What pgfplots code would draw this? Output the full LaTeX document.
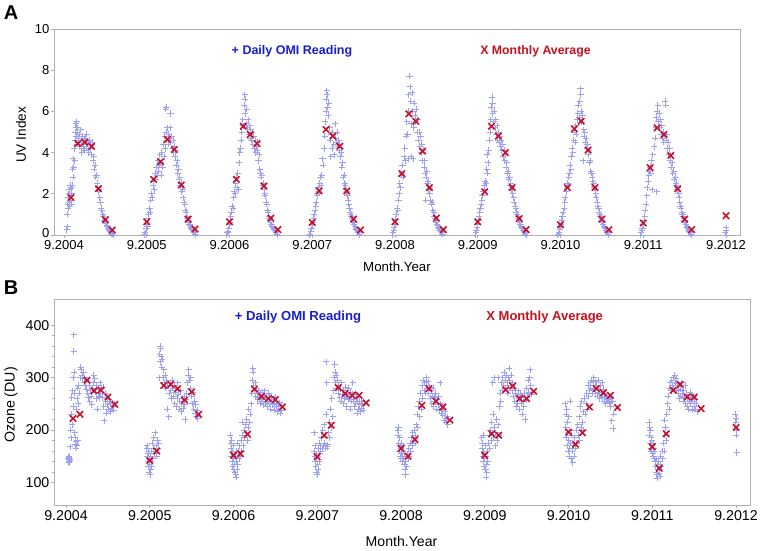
\documentclass[border=0pt]{standalone}
\usepackage{fontspec}
\setmainfont{Liberation Sans}
\usepackage{pgfplots}
\pgfplotsset{compat=1.18}
\usepackage{pgfplotstable}
\definecolor{dailyc}{RGB}{158,160,242}
\definecolor{avgc}{RGB}{200,16,40}
\definecolor{bluetxt}{RGB}{25,30,205}
\definecolor{redtxt}{RGB}{200,16,30}
\definecolor{axisgray}{RGB}{175,175,175}

\pgfplotstableread{
m uv
1 1.82
2 4.44
3 4.50
4 4.30
5 2.25
6 0.75
7 0.24
12 0.64
13 2.70
14 3.56
15 4.64
16 4.15
17 2.43
18 0.77
19 0.29
24 0.64
25 2.70
26 5.28
27 4.88
28 4.44
29 2.38
30 0.82
31 0.26
36 0.61
37 2.14
38 5.12
39 4.80
40 4.31
41 2.14
42 0.77
43 0.24
48 0.64
49 2.98
50 5.88
51 5.52
52 4.07
53 2.30
54 0.82
55 0.26
60 0.64
61 2.10
62 5.28
63 4.80
64 4.00
65 2.30
66 0.80
67 0.26
72 0.50
73 2.30
74 5.15
75 5.52
76 4.12
77 2.30
78 0.77
79 0.26
84 0.58
85 3.27
86 5.20
87 4.88
88 3.86
89 2.25
90 0.77
91 0.26
96 0.93
}\uvavg

\pgfplotstableread{
m oz
1 222
2 230
3 295
4 275
5 276
6 263
7 249
12 142
13 160
14 285
15 287
16 279
17 257
18 273
19 230
24 152
25 155
26 192
27 278
28 264
29 260
30 258
31 244
36 149
37 190
38 209
39 281
40 270
41 266
42 266
43 252
48 165
49 150
50 182
51 247
52 279
53 255
54 244
55 219
60 152
61 193
62 190
63 277
64 284
65 260
66 260
67 274
72 196
73 173
74 195
75 244
76 279
77 271
78 266
79 243
84 168
85 127
86 193
87 276
88 287
89 263
90 263
91 241
96 205
}\ozavg

\pgfplotsset{
  omistyle/.style={
    scale only axis, clip=false,
    tick align=outside, major tick length=3pt, minor tick length=2pt,
    tick style={axisgray, line width=0.6pt},
    axis line style={axisgray, line width=0.8pt},
    xtick pos=lower, ytick pos=left,
    xtick={0,12,...,96},
    xticklabels={9.2004,9.2005,9.2006,9.2007,9.2008,9.2009,9.2010,9.2011,9.2012},
  },
  dailyplot/.style={only marks, mark=+, mark size=3.1pt, color=dailyc, mark options={line width=0.9pt}},
  avgplot/.style={only marks, mark=x, mark size=4.5pt, color=avgc, mark options={line width=1.6pt}},
}

\begin{document}
\begin{tikzpicture}
\useasboundingbox (0pt,0pt) rectangle (761pt,551pt);

% ---------------- Panel A ----------------
\begin{axis}[omistyle,
  at={(54pt,316pt)}, anchor=south west,
  width=686pt, height=206pt,
  xmin=-1.45, xmax=98.03, ymin=0, ymax=10,
  ytick={0,2,4,6,8,10},
  yticklabels={\raisebox{4pt}{0},2,4,6,8,10},
  ticklabel style={font=\fontsize{13}{15}\selectfont},
  xticklabel style={inner ysep=2.5pt},
  yticklabel style={inner xsep=1.5pt},
]
\addplot[dailyplot] table {
0.40 0.25
0.45 1.0
0.50 0.4
0.55 1.5
0.60 1.3
0.65 1.8
0.70 2.0
0.75 1.6
0.80 2.2
0.85 1.4
0.90 2.4
0.95 1.9
1.00 1.7
1.05 2.3
1.10 1.5
1.15 2.0
1.20 2.4
1.25 3.2
1.30 2.8
1.35 3.7
1.40 3.3
1.50 4.2
1.55 3.6
1.60 5.0
1.65 4.6
1.70 5.4
1.75 5.2
1.80 4.8
1.85 5.5
1.90 5.0
1.95 4.4
2.00 5.2
2.10 4.7
2.20 4.9
2.30 4.3
2.40 5.1
2.50 4.5
2.60 4.0
2.70 4.8
2.80 4.2
2.90 4.6
3.00 4.1
3.10 4.7
3.20 4.3
3.30 4.9
3.40 4.4
3.50 4.5
3.60 4.0
3.70 4.6
3.80 4.2
3.90 4.4
4.00 3.9
4.10 4.5
4.20 3.6
4.30 3.8
4.40 3.2
4.50 3.4
4.60 2.8
4.70 2.9
4.80 2.5
4.90 2.3
5.00 2.1
5.10 2.2
5.20 1.8
5.30 1.6
5.40 1.3
5.50 1.2
5.60 1.0
5.70 0.9
5.80 0.7
5.90 0.8
6.00 0.6
6.10 0.55
6.20 0.45
6.30 0.4
6.40 0.3
6.50 0.25
6.60 0.2
6.70 0.15
6.80 0.1
6.90 0.05
7.00 0.05
7.10 0.0
11.60 0.0
11.70 0.05
11.80 0.1
11.90 0.3
12.00 0.5
12.10 0.4
12.20 0.8
12.30 1.0
12.40 1.3
12.50 1.1
12.60 1.7
12.70 2.0
12.80 1.8
12.90 2.4
13.00 2.6
13.10 2.2
13.20 3.0
13.30 2.7
13.40 3.3
13.50 2.9
13.60 3.6
13.70 3.1
13.80 3.4
13.90 3.9
14.00 3.5
14.10 2.9
14.20 4.0
14.30 3.3
14.40 4.4
14.50 3.8
14.60 4.8
14.70 4.2
14.75 6.1
14.80 5.0
14.85 6.2
14.90 4.6
15.00 5.2
15.10 4.4
15.20 4.9
15.30 4.7
15.40 5.2
15.45 5.9
15.50 4.5
15.60 4.8
15.70 4.2
15.80 4.6
15.90 4.0
16.00 4.3
16.10 3.8
16.20 4.1
16.30 3.4
16.40 3.6
16.50 3.0
16.60 3.2
16.70 2.7
16.80 2.8
16.90 2.4
17.00 2.5
17.10 2.1
17.20 2.2
17.30 1.8
17.40 1.6
17.50 1.5
17.60 1.2
17.70 1.1
17.80 0.9
17.90 0.8
18.00 0.7
18.10 0.6
18.20 0.5
18.30 0.45
18.40 0.35
18.50 0.3
18.60 0.25
18.70 0.2
18.80 0.15
18.90 0.1
19.00 0.05
19.10 0.0
23.60 0.0
23.70 0.1
23.80 0.15
23.90 0.3
24.00 0.5
24.10 0.6
24.20 0.9
24.30 1.1
24.40 1.4
24.50 1.3
24.60 1.8
24.70 2.1
24.80 2.0
24.90 2.5
25.00 2.8
25.10 2.3
25.20 3.0
25.30 2.2
25.40 3.5
25.50 4.0
25.60 4.2
25.70 4.6
25.80 5.0
25.90 5.6
26.00 5.3
26.10 6.3
26.20 6.8
26.25 6.6
26.30 5.9
26.40 5.4
26.50 6.1
26.60 5.2
26.70 5.6
26.80 4.9
26.90 5.3
27.00 4.7
27.10 5.1
27.20 4.6
27.30 5.0
27.40 4.4
27.50 4.8
27.60 4.2
27.70 4.6
27.80 4.0
27.90 4.3
28.00 4.1
28.10 4.5
28.20 3.6
28.30 3.9
28.40 3.2
28.50 3.0
28.60 2.8
28.70 2.9
28.80 2.4
28.90 2.5
29.00 2.2
29.10 2.0
29.20 1.9
29.30 1.6
29.40 1.5
29.50 1.2
29.60 1.1
29.70 0.9
29.80 0.8
29.90 0.7
30.00 0.6
30.10 0.5
30.20 0.4
30.30 0.35
30.40 0.3
30.50 0.25
30.60 0.2
30.70 0.15
30.80 0.1
30.90 0.05
31.00 0.0
35.60 0.0
35.70 0.05
35.80 0.15
35.90 0.3
36.00 0.5
36.10 0.6
36.20 0.8
36.30 1.0
36.40 1.2
36.50 1.4
36.60 1.6
36.70 1.9
36.80 2.0
36.90 2.3
37.00 2.1
37.10 2.5
37.20 2.8
37.30 2.4
37.40 2.9
37.50 3.7
37.60 3.4
37.70 4.2
37.80 4.8
37.90 5.5
38.00 6.0
38.05 6.6
38.10 7.0
38.15 6.8
38.20 6.2
38.30 5.8
38.40 6.4
38.50 5.2
38.60 4.6
38.70 3.8
38.80 4.9
38.90 4.2
39.00 5.0
39.10 4.4
39.20 3.9
39.30 5.4
39.40 4.7
39.50 4.5
39.60 5.0
39.70 4.3
39.80 4.6
39.90 4.1
40.00 4.4
40.10 3.8
40.20 4.0
40.30 3.3
40.40 3.5
40.50 2.8
40.60 2.9
40.70 2.5
40.80 2.4
40.90 2.2
41.00 2.1
41.10 1.9
41.20 1.7
41.30 1.5
41.40 1.3
41.50 1.1
41.60 1.0
41.70 0.9
41.80 0.8
41.90 0.7
42.00 0.6
42.10 0.5
42.20 0.4
42.30 0.3
42.40 0.25
42.50 0.2
42.60 0.15
42.70 0.1
42.80 0.05
42.90 0.0
47.60 0.0
47.70 0.1
47.80 0.2
47.90 0.35
48.00 0.5
48.10 0.75
48.20 1.0
48.30 1.3
48.40 1.2
48.50 1.7
48.60 2.0
48.70 2.5
48.80 2.3
48.90 2.9
49.00 3.0
49.10 3.4
49.20 2.8
49.30 3.8
49.40 4.2
49.50 3.6
49.60 4.8
49.70 5.5
49.80 4.9
49.90 6.0
49.95 3.7
50.00 6.8
50.10 7.7
50.20 7.2
50.30 6.5
50.35 3.8
50.40 5.4
50.50 6.9
50.60 6.0
50.65 3.7
50.70 5.2
50.80 6.4
50.90 5.8
51.00 5.5
51.10 6.1
51.20 5.0
51.30 5.6
51.40 4.6
51.50 5.0
51.60 4.3
51.70 4.8
51.80 4.0
51.90 4.4
52.00 3.6
52.10 4.1
52.20 3.3
52.30 3.6
52.40 3.0
52.45 1.7
52.50 2.8
52.60 3.1
52.70 2.5
52.80 2.6
52.90 2.2
53.00 2.0
53.10 2.3
53.20 1.7
53.30 1.5
53.40 1.6
53.50 1.2
53.60 1.1
53.70 0.9
53.80 0.8
53.90 0.7
54.00 0.6
54.10 0.5
54.20 0.45
54.30 0.35
54.40 0.3
54.50 0.25
54.60 0.2
54.70 0.15
54.80 0.1
54.90 0.05
59.60 0.0
59.70 0.1
59.80 0.2
59.90 0.35
60.00 0.5
60.10 0.7
60.20 0.9
60.30 1.1
60.40 1.3
60.50 1.5
60.60 1.7
60.70 1.9
60.80 2.1
60.90 2.4
61.00 2.2
61.10 2.6
61.20 2.5
61.30 3.2
61.35 3.9
61.40 3.0
61.50 3.5
61.60 4.1
61.70 4.6
61.80 5.0
61.90 5.6
62.00 6.2
62.10 6.7
62.15 6.4
62.20 5.9
62.30 5.5
62.40 6.0
62.50 5.2
62.60 5.6
62.70 4.9
62.80 5.3
62.90 4.6
63.00 5.0
63.10 4.5
63.20 4.8
63.30 4.3
63.40 4.6
63.50 4.1
63.60 4.4
63.70 3.8
63.80 4.1
63.90 3.6
64.00 3.9
64.10 3.3
64.20 3.5
64.30 3.0
64.40 3.1
64.50 2.7
64.60 2.8
64.70 2.4
64.80 2.5
64.90 2.2
65.00 2.3
65.10 2.0
65.20 1.8
65.30 1.6
65.40 1.4
65.50 1.3
65.60 1.1
65.70 1.0
65.80 0.9
65.90 0.8
66.00 0.7
66.10 0.6
66.20 0.5
66.30 0.4
66.40 0.35
66.50 0.3
66.60 0.2
66.70 0.15
66.80 0.1
66.90 0.05
67.00 0.0
71.60 0.0
71.70 0.05
71.80 0.1
71.90 0.25
72.00 0.4
72.10 0.5
72.20 0.7
72.30 0.9
72.40 1.1
72.50 1.3
72.60 1.6
72.70 1.8
72.80 2.1
72.90 2.3
73.00 2.5
73.10 2.4
73.20 2.8
73.30 3.0
73.40 3.4
73.50 3.2
73.60 3.8
73.70 4.2
73.80 4.0
73.90 4.6
74.00 5.0
74.10 4.5
74.20 5.3
74.30 4.9
74.40 5.6
74.50 5.9
74.60 6.3
74.70 5.7
74.80 6.5
74.90 7.1
74.95 6.8
75.00 6.0
75.10 5.5
75.20 5.8
75.30 3.6
75.35 5.1
75.40 4.8
75.50 5.0
75.60 4.5
75.70 4.7
75.80 4.2
75.90 4.4
76.00 3.9
76.10 4.1
76.20 3.5
76.30 3.6
76.40 3.1
76.50 3.0
76.60 2.8
76.70 2.6
76.80 2.5
76.90 2.3
77.00 2.2
77.10 2.0
77.20 1.8
77.30 1.6
77.40 1.4
77.50 1.3
77.60 1.1
77.70 1.0
77.80 0.9
77.90 0.8
78.00 0.7
78.10 0.6
78.20 0.5
78.30 0.4
78.40 0.35
78.50 0.3
78.60 0.2
78.70 0.15
78.80 0.1
78.90 0.05
79.00 0.0
83.60 0.0
83.70 0.1
83.80 0.2
83.90 0.3
84.00 0.5
84.10 0.7
84.20 0.9
84.30 1.2
84.40 1.5
84.50 1.9
84.60 2.3
84.70 2.6
84.80 2.9
84.90 3.1
85.00 3.3
85.10 3.0
85.20 3.6
85.30 2.2
85.40 3.9
85.60 4.3
85.70 4.7
85.80 5.2
85.90 5.7
85.95 2.1
86.00 6.0
86.10 6.3
86.20 5.5
86.30 5.9
86.40 5.2
86.50 5.6
86.60 4.9
86.70 5.3
86.80 4.7
86.90 5.0
87.00 4.5
87.10 4.8
87.20 6.5
87.25 6.3
87.30 4.6
87.40 4.9
87.50 4.2
87.60 4.5
87.70 3.9
87.80 4.2
87.90 3.6
88.00 3.9
88.10 3.3
88.20 3.5
88.30 3.0
88.40 3.1
88.50 2.7
88.60 2.8
88.70 2.4
88.80 2.5
88.90 2.2
89.00 2.3
89.10 2.0
89.20 1.8
89.30 1.6
89.40 1.4
89.50 1.3
89.60 1.1
89.70 1.0
89.80 0.9
89.90 0.8
90.00 0.7
90.10 0.6
90.20 0.5
90.30 0.4
90.40 0.35
90.50 0.3
90.60 0.2
90.70 0.15
90.80 0.1
90.90 0.05
91.00 0.0
95.90 0.1
96.00 0.2
96.05 0.35
96.10 0.0
};
\addplot[avgplot] table[x=m, y=uv] {\uvavg};
\end{axis}

% ---------------- Panel B ----------------
\begin{axis}[omistyle,
  at={(54pt,46pt)}, anchor=south west,
  width=696pt, height=206pt,
  xmin=-1.72, xmax=98.0, ymin=57, ymax=450,
  ytick={100,200,300,400},
  yticklabels={100,200,300,400},
  minor y tick num=4,
  ticklabel style={font=\fontsize{14.2}{16}\selectfont},
  xticklabel style={inner ysep=2.5pt},
  yticklabel style={inner xsep=1.5pt},
]
\addplot[dailyplot] table {
0.35 145
0.38 140
0.40 148
0.42 143
0.45 150
0.48 138
0.50 146
0.55 142
0.60 168
0.70 200
0.75 185
0.80 230
0.85 262
0.90 210
0.95 275
1.00 245
1.05 300
1.10 350
1.12 382
1.15 310
1.20 270
1.25 195
1.30 185
1.35 172
1.40 178
1.45 165
1.50 240
1.55 170
1.60 260
1.65 180
1.70 280
1.75 250
1.80 285
1.90 270
2.00 300
2.10 320
2.20 315
2.30 305
2.40 298
2.50 310
2.60 290
2.70 300
2.80 285
2.90 278
3.00 295
3.10 270
3.20 262
3.30 285
3.40 255
3.50 275
3.60 265
3.70 248
3.80 280
3.90 290
4.00 305
4.10 298
4.20 272
4.30 260
4.40 285
4.50 240
4.60 278
4.70 265
4.80 262
4.90 290
5.00 270
5.10 280
5.20 262
5.30 282
5.40 245
5.50 218
5.60 270
5.70 255
5.80 232
5.90 262
6.00 248
6.10 240
6.20 258
6.30 235
6.40 250
6.50 242
6.60 252
6.70 245
6.80 238
6.90 250
11.55 165
11.60 150
11.65 170
11.70 140
11.75 155
11.80 130
11.85 160
11.90 120
11.95 145
12.00 135
12.05 115
12.10 150
12.15 125
12.20 140
12.25 160
12.30 130
12.35 175
12.40 145
12.50 165
12.60 185
12.70 155
12.80 195
12.90 170
13.00 150
13.10 180
13.20 165
13.30 175
13.40 300
13.45 345
13.50 360
13.55 330
13.60 355
13.65 340
13.70 320
13.80 335
13.90 300
14.00 315
14.10 290
14.20 305
14.30 280
14.40 295
14.50 240
14.60 285
14.70 225
14.80 270
14.90 290
15.00 275
15.10 260
15.20 295
15.30 280
15.40 265
15.50 285
15.60 250
15.70 272
15.80 245
15.90 260
16.00 290
16.10 268
16.20 240
16.30 255
16.40 275
16.50 235
16.60 250
16.70 260
16.80 242
16.90 265
17.00 248
17.10 220
17.20 258
17.30 270
17.40 290
17.50 305
17.60 315
17.70 295
17.80 280
17.90 300
18.00 265
18.10 250
18.20 272
18.30 240
18.40 255
18.50 232
18.60 248
18.70 225
18.80 238
18.90 222
23.55 190
23.60 175
23.65 165
23.70 150
23.75 180
23.80 140
23.85 160
23.90 130
23.95 170
24.00 145
24.05 125
24.10 155
24.15 135
24.20 120
24.25 148
24.30 115
24.35 160
24.40 110
24.45 140
24.50 125
24.55 175
24.60 135
24.70 160
24.80 145
24.90 170
25.00 150
25.10 180
25.20 160
25.25 215
25.30 190
25.40 170
25.50 200
25.60 185
25.70 210
25.80 195
25.90 220
26.00 180
26.10 205
26.20 240
26.30 215
26.40 230
26.50 250
26.60 270
26.70 295
26.75 318
26.80 310
26.90 285
27.00 275
27.10 290
27.20 265
27.30 280
27.40 270
27.50 258
27.60 275
27.70 262
27.80 250
27.90 268
28.00 255
28.10 272
28.20 260
28.30 248
28.40 265
28.50 275
28.60 252
28.70 262
28.80 245
28.90 258
29.00 270
29.10 250
29.20 262
29.30 240
29.40 255
29.50 265
29.60 248
29.70 258
29.80 238
29.90 250
30.00 262
30.10 245
30.20 255
30.30 235
30.40 248
30.50 240
30.60 252
30.70 232
30.80 245
30.90 238
35.55 160
35.60 195
35.65 150
35.70 140
35.75 170
35.80 130
35.85 155
35.90 120
35.95 145
36.00 115
36.05 135
36.10 150
36.15 125
36.20 165
36.25 140
36.30 175
36.35 155
36.40 170
36.50 160
36.60 185
36.70 165
36.80 200
36.90 170
37.00 210
37.10 175
37.20 165
37.25 330
37.30 230
37.35 290
37.40 168
37.50 172
37.60 195
37.70 215
37.80 185
37.90 240
38.00 205
38.10 260
38.20 225
38.30 275
38.40 300
38.50 325
38.55 310
38.60 290
38.70 305
38.80 280
38.90 295
39.00 270
39.10 285
39.20 262
39.30 278
39.40 255
39.50 290
39.60 268
39.70 250
39.80 275
39.90 260
40.00 282
40.10 265
40.20 245
40.30 270
40.40 258
40.50 280
40.60 262
40.70 240
40.80 272
40.90 255
41.00 268
41.10 290
41.20 258
41.30 245
41.40 270
41.50 250
41.60 262
41.70 232
41.80 255
41.90 240
42.00 262
42.10 248
42.20 235
42.30 255
42.40 242
42.50 250
42.60 238
47.55 200
47.60 190
47.65 205
47.70 175
47.75 160
47.80 185
47.85 150
47.90 170
47.95 145
48.00 165
48.05 155
48.10 175
48.15 140
48.20 160
48.25 150
48.30 170
48.40 145
48.50 135
48.55 155
48.60 125
48.65 115
48.70 140
48.80 130
48.90 155
49.00 145
49.10 165
49.20 150
49.30 175
49.40 160
49.50 185
49.60 170
49.70 195
49.80 180
49.90 200
50.00 175
50.10 190
50.20 210
50.30 230
50.40 205
50.50 245
50.60 255
50.70 225
50.80 270
50.90 240
51.00 285
51.10 260
51.20 295
51.30 275
51.40 290
51.50 270
51.60 285
51.70 300
51.80 280
51.90 292
52.00 270
52.10 282
52.20 260
52.30 275
52.40 250
52.50 265
52.60 280
52.70 245
52.80 262
52.90 255
53.00 270
53.10 240
53.20 258
53.30 248
53.40 265
53.50 238
53.60 290
53.70 250
53.80 232
53.90 245
54.00 228
54.10 240
54.20 218
54.30 235
54.40 222
54.50 215
54.60 225
54.70 210
59.55 185
59.60 165
59.65 175
59.70 150
59.75 190
59.80 140
59.85 160
59.90 130
59.95 155
60.00 145
60.05 170
60.10 125
60.15 150
60.20 110
60.25 135
60.30 120
60.35 160
60.40 140
60.50 175
60.60 190
60.70 165
60.80 200
60.90 180
61.00 215
61.10 195
61.15 290
61.20 230
61.30 185
61.35 300
61.40 205
61.50 170
61.60 195
61.70 220
61.80 180
61.90 210
62.00 300
62.05 190
62.10 245
62.20 270
62.30 255
62.40 290
62.50 275
62.60 300
62.70 285
62.80 310
62.90 295
63.00 280
63.10 305
63.20 290
63.30 270
63.40 300
63.50 318
63.60 295
63.70 285
63.80 305
63.90 275
64.00 290
64.10 265
64.20 280
64.30 255
64.40 270
64.50 245
64.60 265
64.70 250
64.80 275
64.90 260
65.00 240
65.10 268
65.20 250
65.30 262
65.40 230
65.50 255
65.60 245
65.70 270
65.80 220
65.90 258
66.00 280
66.10 262
66.20 295
66.30 272
66.40 300
66.50 315
66.60 285
66.70 268
71.55 250
71.60 205
71.65 230
71.70 185
71.75 240
71.80 170
71.85 215
71.90 195
71.95 160
72.00 225
72.05 180
72.10 150
72.15 200
72.20 165
72.25 255
72.30 175
72.35 145
72.40 190
72.50 160
72.60 138
72.70 170
72.80 150
72.90 185
73.00 165
73.10 200
73.20 175
73.30 210
73.40 190
73.50 225
73.60 180
73.70 245
73.80 205
73.90 255
74.00 215
74.10 235
74.20 200
74.30 260
74.40 230
74.50 250
74.60 270
74.70 240
74.80 285
74.90 265
75.00 275
75.10 290
75.20 280
75.30 295
75.40 270
75.50 285
75.60 300
75.70 278
75.80 292
75.90 270
76.00 285
76.10 265
76.20 280
76.30 295
76.40 272
76.50 260
76.60 285
76.70 268
76.80 290
76.90 262
77.00 278
77.10 255
77.20 270
77.30 250
77.40 265
77.50 262
77.60 260
77.70 258
77.80 252
77.90 250
78.00 245
78.10 262
78.20 218
78.30 255
78.40 203
78.50 230
83.55 215
83.60 190
83.65 205
83.70 175
83.75 200
83.80 165
83.85 185
83.90 160
83.95 180
84.00 170
84.05 155
84.10 175
84.15 150
84.20 165
84.25 145
84.30 160
84.40 140
84.50 130
84.55 120
84.60 145
84.65 115
84.70 135
84.75 108
84.80 125
84.90 140
85.00 118
85.10 135
85.15 112
85.20 150
85.30 130
85.40 160
85.50 145
85.60 175
85.70 160
85.75 219
85.80 190
85.90 205
86.00 180
86.10 230
86.20 250
86.30 265
86.40 240
86.50 280
86.60 290
86.70 275
86.80 295
86.90 285
87.00 300
87.10 280
87.20 305
87.30 290
87.40 298
87.50 275
87.60 288
87.70 270
87.80 285
87.90 260
88.00 278
88.10 265
88.20 290
88.30 270
88.40 255
88.50 275
88.60 262
88.70 285
88.80 250
88.90 268
89.00 245
89.10 260
89.20 240
89.30 255
89.40 272
89.50 250
89.60 262
89.70 238
89.80 255
89.90 265
90.00 245
90.10 258
90.20 240
90.30 250
90.40 235
95.90 230
95.95 215
96.00 200
96.02 222
96.05 190
96.10 157
};
\addplot[avgplot] table[x=m, y=oz] {\ozavg};
\end{axis}

% ---------------- Texts ----------------
\node[font=\fontsize{20}{22}\selectfont\bfseries] at (11pt,538pt) {A};
\node[font=\fontsize{20}{22}\selectfont\bfseries] at (11pt,263pt) {B};
\node[rotate=90, font=\fontsize{13.6}{15}\selectfont] at (21pt,416pt) {UV Index};
\node[rotate=90, font=\fontsize{14.2}{16}\selectfont] at (11pt,146pt) {Ozone (DU)};
\node[font=\fontsize{13.3}{15}\selectfont] at (397pt,284.3pt) {Month.Year};
\node[font=\fontsize{14.1}{16}\selectfont] at (401.5pt,9.5pt) {Month.Year};
\node[font=\fontsize{12.5}{14}\selectfont\bfseries, text=bluetxt] at (292pt,499.3pt) {+ Daily OMI Reading};
\node[font=\fontsize{12.3}{14}\selectfont\bfseries, text=redtxt] at (535.5pt,499.3pt) {X Monthly Average};
\node[font=\fontsize{13.1}{15}\selectfont\bfseries, text=bluetxt] at (298pt,234.3pt) {+ Daily OMI Reading};
\node[font=\fontsize{13}{15}\selectfont\bfseries, text=redtxt] at (544.7pt,234.3pt) {X Monthly Average};
\end{tikzpicture}
\end{document}
